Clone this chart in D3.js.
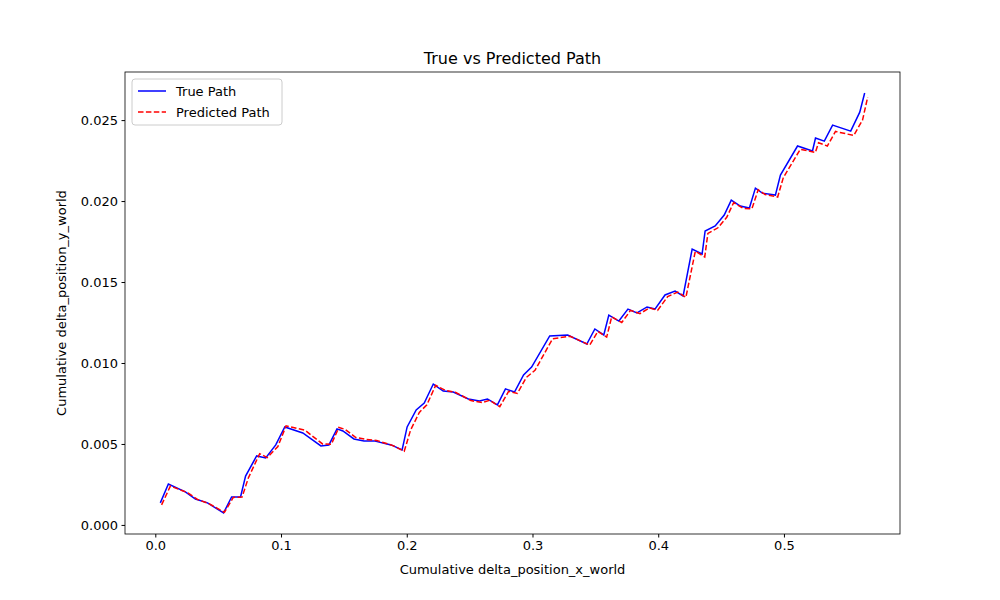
<!DOCTYPE html>
<html><head><meta charset="utf-8">
<script src="https://cdn.jsdelivr.net/npm/d3@7"></script>
<style>body{margin:0;background:#fff}text{font-family:"DejaVu Sans",sans-serif}</style>
</head><body><svg id="chart" width="1000" height="600"></svg>
<script>
const trueX = [0.0040,0.0104,0.0239,0.0319,0.0415,0.0543,0.0607,0.0678,0.0718,0.0806,0.0878,0.0958,0.1030,0.1173,0.1317,0.1381,0.1445,0.1492,0.1580,0.1660,0.1740,0.1876,0.1963,0.2003,0.2075,0.2139,0.2211,0.2290,0.2370,0.2490,0.2578,0.2642,0.2721,0.2785,0.2857,0.2929,0.2993,0.3137,0.3280,0.3432,0.3496,0.3567,0.3607,0.3687,0.3759,0.3831,0.3911,0.3974,0.4054,0.4134,0.4198,0.4270,0.4349,0.4373,0.4453,0.4525,0.4581,0.4653,0.4725,0.4773,0.4828,0.4932,0.4972,0.5108,0.5227,0.5251,0.5321,0.5387,0.5531,0.5603,0.5642];
const trueY = [0.00136,0.00253,0.00204,0.00160,0.00136,0.00074,0.00173,0.00173,0.00302,0.00426,0.00414,0.00494,0.00605,0.00568,0.00488,0.00494,0.00593,0.00580,0.00531,0.00519,0.00519,0.00494,0.00463,0.00605,0.00710,0.00753,0.00870,0.00827,0.00821,0.00778,0.00765,0.00778,0.00741,0.00840,0.00821,0.00926,0.00975,0.01167,0.01173,0.01117,0.01210,0.01173,0.01296,0.01259,0.01333,0.01309,0.01346,0.01333,0.01420,0.01444,0.01414,0.01704,0.01673,0.01815,0.01846,0.01914,0.02006,0.01969,0.01957,0.02080,0.02049,0.02037,0.02160,0.02340,0.02309,0.02389,0.02370,0.02469,0.02432,0.02549,0.02667];
const predX = [0.0050,0.0120,0.0255,0.0335,0.0430,0.0550,0.0620,0.0690,0.0740,0.0830,0.0890,0.0975,0.1040,0.1190,0.1330,0.1400,0.1460,0.1510,0.1595,0.1680,0.1760,0.1890,0.1980,0.2030,0.2100,0.2160,0.2230,0.2310,0.2390,0.2510,0.2600,0.2660,0.2740,0.2810,0.2880,0.2950,0.3020,0.3160,0.3300,0.3455,0.3520,0.3590,0.3630,0.3710,0.3780,0.3855,0.3930,0.3995,0.4075,0.4155,0.4220,0.4295,0.4370,0.4395,0.4475,0.4545,0.4600,0.4675,0.4745,0.4795,0.4850,0.4950,0.4995,0.5130,0.5250,0.5275,0.5345,0.5410,0.5555,0.5625,0.5666];
const predY = [0.00124,0.00240,0.00200,0.00158,0.00130,0.00078,0.00170,0.00172,0.00290,0.00440,0.00416,0.00484,0.00612,0.00585,0.00500,0.00498,0.00602,0.00590,0.00540,0.00528,0.00522,0.00490,0.00455,0.00585,0.00695,0.00742,0.00862,0.00830,0.00818,0.00768,0.00755,0.00770,0.00730,0.00825,0.00812,0.00910,0.00955,0.01150,0.01165,0.01110,0.01195,0.01160,0.01285,0.01250,0.01325,0.01305,0.01340,0.01325,0.01410,0.01438,0.01405,0.01690,0.01655,0.01800,0.01835,0.01900,0.01990,0.01955,0.01952,0.02070,0.02040,0.02025,0.02145,0.02320,0.02300,0.02360,0.02340,0.02430,0.02405,0.02500,0.02642];
const xTicks = [0.0,0.1,0.2,0.3,0.4,0.5];
const yTicks = [0.000,0.005,0.010,0.015,0.020,0.025];

const svg = d3.select("#chart");
const m = {l:125, r:900, t:72, b:534};
const x = d3.scaleLinear().domain([-0.0241,0.5923]).range([m.l,m.r]);
const y = d3.scaleLinear().domain([-0.00056,0.02797]).range([m.b,m.t]);

svg.append("g").attr("transform",`translate(0,${m.b})`)
  .call(d3.axisBottom(x).tickValues(xTicks).tickFormat(d3.format(".1f")).tickSizeOuter(0).tickSize(3.5).tickPadding(3.5))
  .call(g=>g.selectAll("text").attr("font-size",13).attr("fill","#000"));
svg.append("g").attr("transform",`translate(${m.l},0)`)
  .call(d3.axisLeft(y).tickValues(yTicks).tickFormat(d3.format(".3f")).tickSizeOuter(0).tickSize(3.5).tickPadding(3.5))
  .call(g=>g.selectAll("text").attr("font-size",13).attr("fill","#000"));
svg.selectAll(".domain").remove();
svg.append("rect").attr("x",m.l).attr("y",m.t).attr("width",m.r-m.l).attr("height",m.b-m.t)
  .attr("fill","none").attr("stroke","#000").attr("stroke-width",0.8);

const line = d3.line().x(d=>x(d[0])).y(d=>y(d[1]));
svg.append("path").datum(d3.zip(trueX,trueY)).attr("d",line)
  .attr("fill","none").attr("stroke","blue").attr("stroke-width",1.5);
svg.append("path").datum(d3.zip(predX,predY)).attr("d",line)
  .attr("fill","none").attr("stroke","red").attr("stroke-width",1.5).attr("stroke-dasharray","5.5,2.4");

svg.append("text").attr("x",(m.l+m.r)/2).attr("y",64).attr("text-anchor","middle").attr("font-size",16).text("True vs Predicted Path");
svg.append("text").attr("x",(m.l+m.r)/2).attr("y",574).attr("text-anchor","middle").attr("font-size",13).text("Cumulative delta_position_x_world");
svg.append("text").attr("transform",`translate(66,${(m.t+m.b)/2}) rotate(-90)`).attr("text-anchor","middle").attr("font-size",13).text("Cumulative delta_position_y_world");

const lg = svg.append("g").attr("transform","translate(132,79)");
lg.append("rect").attr("width",150).attr("height",46).attr("rx",3).attr("fill","#fff").attr("stroke","#ccc");
[["True Path","blue",null],["Predicted Path","red","5.5,2.4"]].forEach((d,i)=>{
  const yy = 12+i*21;
  lg.append("line").attr("x1",6).attr("x2",34).attr("y1",yy).attr("y2",yy).attr("stroke",d[1]).attr("stroke-width",1.5).attr("stroke-dasharray",d[2]);
  lg.append("text").attr("x",44).attr("y",yy+4.5).attr("font-size",13).text(d[0]);
});
</script></body></html>
